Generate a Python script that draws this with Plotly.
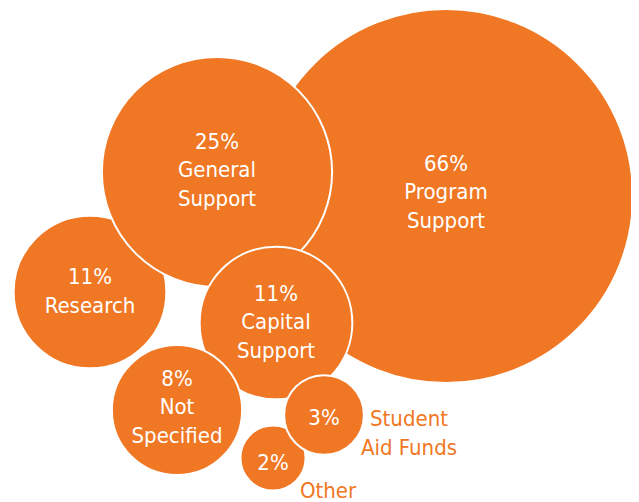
import plotly.graph_objects as go

# Data
categories = ["Program Support", "Research", "General Support", "Capital Support",
              "Not Specified", "Other", "Student Aid Funds"]
values = [66, 11, 25, 11, 8, 2, 3]
# bubble centre positions (chart units)
bx = [446, 90, 217, 276, 177, 273, 324]
by = [306, 210, 330, 179, 92, 44, 87]

inner_labels = ["66%<br>Program<br>Support", "11%<br>Research", "25%<br>General<br>Support",
                "11%<br>Capital<br>Support", "8%<br>Not<br>Specified", "2%", "3%"]
inner_y = [308, 209, 330, 178, 93, 38, 83]

outer_labels = ["Student<br>Aid Funds", "Other"]
outer_x = [409, 328]
outer_y = [67, 10]

ORANGE = "#F07723"
FONT = "DejaVu Sans Condensed"

fig = go.Figure()
fig.add_trace(go.Scatter(
    x=bx, y=by, mode="markers",
    marker=dict(size=values, sizemode="area", sizeref=2 * 66 / 374 ** 2,
                color=ORANGE, opacity=1,
                line=dict(color="white", width=2)),
    hoverinfo="text", hovertext=categories, showlegend=False,
    cliponaxis=False,
))
fig.add_trace(go.Scatter(
    x=bx, y=inner_y, mode="text", text=inner_labels,
    textfont=dict(family=FONT, size=22, color="white"),
    textposition="middle center", showlegend=False, hoverinfo="skip",
    cliponaxis=False,
))
fig.add_trace(go.Scatter(
    x=outer_x, y=outer_y, mode="text", text=outer_labels,
    textfont=dict(family=FONT, size=22, color=ORANGE),
    textposition="middle center", showlegend=False, hoverinfo="skip",
    cliponaxis=False,
))

fig.update_layout(
    width=631, height=494,
    margin=dict(l=0, r=0, t=0, b=0),
    paper_bgcolor="white", plot_bgcolor="white",
    xaxis=dict(range=[8, 639], visible=False, fixedrange=True),
    yaxis=dict(range=[0, 494], visible=False, fixedrange=True),
)
fig.write_html("out.html")
